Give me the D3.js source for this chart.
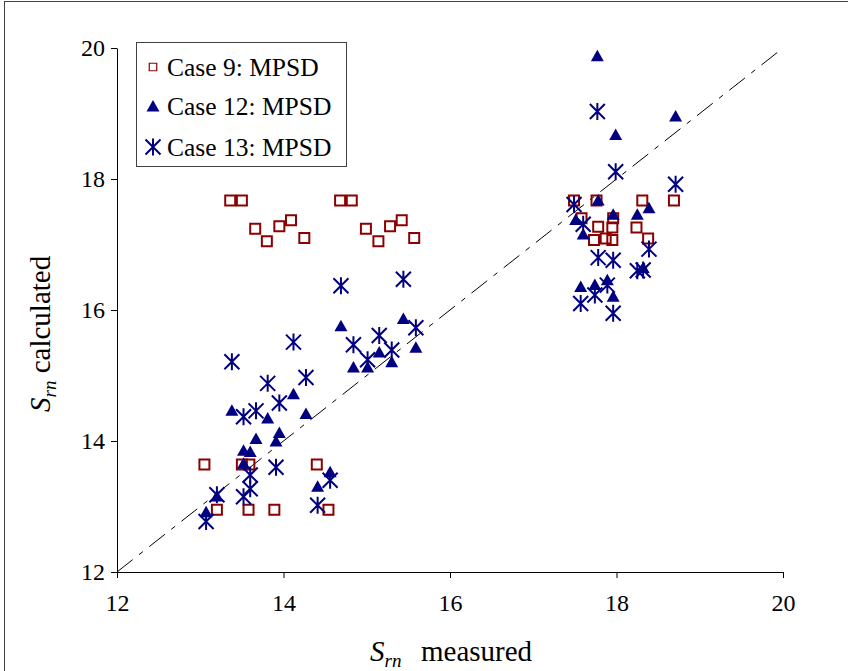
<!DOCTYPE html>
<html>
<head>
<meta charset="utf-8">
<script src="https://cdn.jsdelivr.net/npm/d3@7/dist/d3.min.js"></script>
<style>
  body { margin: 0; background: #fff; }
  svg { display: block; font-family: "Liberation Serif", "Times New Roman", serif; }
</style>
</head>
<body>
<div id="chart"></div>
<script>
var case9 = [
    [13.36, 17.67], [13.50, 17.67], [13.66, 17.24], [13.80, 17.05], [13.95, 17.28], [14.09, 17.37], [14.25, 17.10],
    [14.68, 17.67], [14.82, 17.67], [14.99, 17.24], [15.14, 17.05], [15.28, 17.28], [15.42, 17.37], [15.57, 17.10],
    [13.05, 13.64], [13.50, 13.64], [13.59, 13.64], [14.40, 13.64],
    [13.20, 12.95], [13.58, 12.95], [13.89, 12.95], [14.54, 12.95],
    [17.49, 17.67], [17.76, 17.67], [18.31, 17.67], [18.69, 17.67],
    [17.58, 17.40], [17.78, 17.27], [17.96, 17.40], [17.95, 17.26], [18.24, 17.26],
    [17.73, 17.07], [17.87, 17.09], [17.95, 17.07], [18.38, 17.09]
];

var case12 = [
    [13.07, 12.92], [13.20, 13.16], [13.52, 13.66], [13.52, 13.86], [13.60, 13.84], [13.67, 14.04],
    [13.91, 14.00], [13.95, 14.13], [13.38, 14.47], [13.81, 14.35], [14.12, 14.72], [14.27, 14.42],
    [14.41, 13.31], [14.56, 13.53], [14.69, 15.76], [15.44, 15.87], [15.59, 15.43], [14.84, 15.13],
    [15.01, 15.13], [15.15, 15.36], [15.30, 15.21],
    [17.77, 19.88], [17.99, 18.68], [18.71, 18.96], [17.78, 17.68], [17.51, 17.38], [17.60, 17.16],
    [17.96, 17.46], [18.25, 17.46], [18.39, 17.56], [18.32, 16.65], [17.57, 16.36], [17.74, 16.39],
    [17.89, 16.46], [17.96, 16.21]
];

var case13 = [
    [13.38, 15.21], [14.12, 15.51], [13.81, 14.88], [14.27, 14.97], [13.95, 14.58], [13.52, 14.37],
    [13.67, 14.46], [13.91, 13.60], [13.60, 13.48], [13.60, 13.27], [13.52, 13.15], [13.20, 13.18],
    [13.07, 12.77], [14.41, 13.02], [14.56, 13.40], [14.69, 16.37], [15.44, 16.47], [15.59, 15.73],
    [14.84, 15.47], [15.15, 15.61], [15.01, 15.24], [15.30, 15.39],
    [17.77, 19.03], [17.99, 18.11], [18.71, 17.92], [17.49, 17.61], [17.60, 17.31], [17.78, 16.80],
    [17.96, 16.76], [18.39, 16.93], [18.25, 16.60], [18.32, 16.61], [17.57, 16.10], [17.74, 16.23],
    [17.89, 16.38], [17.96, 15.95]
];

var ticks = [12, 14, 16, 18, 20];
var legendLabels = ["Case 9: MPSD", "Case 12: MPSD", "Case 13: MPSD"];

/** Initialisation du SVG */
var width = 848,
    height = 671;

var svg = d3.select("#chart")
    .append("svg")
    .attr("width", width)
    .attr("height", height);

// cadre extérieur (seulement haut et gauche visibles)
svg.append("rect")
    .attr("x", 4.5)
    .attr("y", 1.5)
    .attr("width", 900)
    .attr("height", 700)
    .attr("fill", "none")
    .attr("stroke", "#404040")
    .attr("stroke-width", 1);

var x = d3.scaleLinear().domain([12, 20]).range([117, 783]);
var y = d3.scaleLinear().domain([12, 20]).range([572, 48]);

// axes
var xAxis = svg.append("g")
    .attr("transform", "translate(0," + y(12) + ")")
    .call(d3.axisBottom(x).tickValues(ticks).tickSize(6).tickPadding(16).tickSizeOuter(0));
var yAxis = svg.append("g")
    .attr("transform", "translate(" + x(12) + ",0)")
    .call(d3.axisLeft(y).tickValues(ticks).tickSize(6).tickPadding(6).tickSizeOuter(0));

[xAxis, yAxis].forEach(function (g) {
    g.select(".domain").attr("stroke", "#000");
    g.selectAll(".tick line").attr("stroke", "#000");
    g.selectAll(".tick text")
        .attr("fill", "#000")
        .style("font-family", "Liberation Serif")
        .style("font-size", "24px");
});

// diagonale 1:1
svg.append("line")
    .attr("x1", x(12)).attr("y1", y(12))
    .attr("x2", x(20)).attr("y2", y(20))
    .attr("stroke", "#000")
    .attr("stroke-width", 1)
    .attr("stroke-dasharray", "20,8,5,8");

// formes des marqueurs
var squarePath = "M-5,-5H5V5H-5Z";
var trianglePath = "M0,-6L6.5,5.5H-6.5Z";
var starPath = "M-7.5,-7.5L7.5,7.5M-7.5,7.5L7.5,-7.5M0,-8.5V8.5";

function drawPoints(data, shape, fill, stroke, sw) {
    svg.append("g")
        .selectAll("path")
        .data(data)
        .enter()
        .append("path")
        .attr("transform", function (d) {
            return "translate(" + x(d[0]) + "," + y(d[1]) + ")";
        })
        .attr("d", shape)
        .attr("fill", fill)
        .attr("stroke", stroke)
        .attr("stroke-width", sw);
}

drawPoints(case9, squarePath, "none", "#8B0000", 2);
drawPoints(case12, trianglePath, "#000080", "none", 0);
drawPoints(case13, starPath, "none", "#000080", 2);

// légende
var legend = svg.append("g");
legend.append("rect")
    .attr("x", 136.5).attr("y", 42.5)
    .attr("width", 210).attr("height", 124)
    .attr("fill", "#fff")
    .attr("stroke", "#404040");

var legendRows = [
    { y: 67, d: squarePath, fill: "none", stroke: "#8B0000", sw: 1.6, s: 0.75 },
    { y: 106, d: trianglePath, fill: "#000080", stroke: "none", sw: 0, s: 1 },
    { y: 147, d: starPath, fill: "none", stroke: "#000080", sw: 2, s: 1 }
];

legendRows.forEach(function (r, i) {
    legend.append("path")
        .attr("transform", "translate(153," + r.y + ") scale(" + r.s + ")")
        .attr("d", r.d)
        .attr("fill", r.fill)
        .attr("stroke", r.stroke)
        .attr("stroke-width", r.sw);
    legend.append("text")
        .attr("x", 167)
        .attr("y", r.y + 9)
        .style("font-size", "25.5px")
        .text(legendLabels[i]);
});

// titres des axes
var xTitle = svg.append("text")
    .attr("x", 370)
    .attr("y", 661)
    .style("font-size", "29px");
xTitle.append("tspan").style("font-style", "italic").text("S");
xTitle.append("tspan").style("font-style", "italic").style("font-size", "19px").attr("dy", 6).text("rn");
xTitle.append("tspan").attr("dy", -6).attr("x", 421).text("measured");

var yTitle = svg.append("text")
    .attr("transform", "translate(50,412) rotate(-90)")
    .style("font-size", "29px");
yTitle.append("tspan").style("font-style", "italic").text("S");
yTitle.append("tspan").style("font-style", "italic").style("font-size", "19px").attr("dy", 6).text("rn");
yTitle.append("tspan").attr("dy", -6).text(" calculated");
</script>
</body>
</html>
